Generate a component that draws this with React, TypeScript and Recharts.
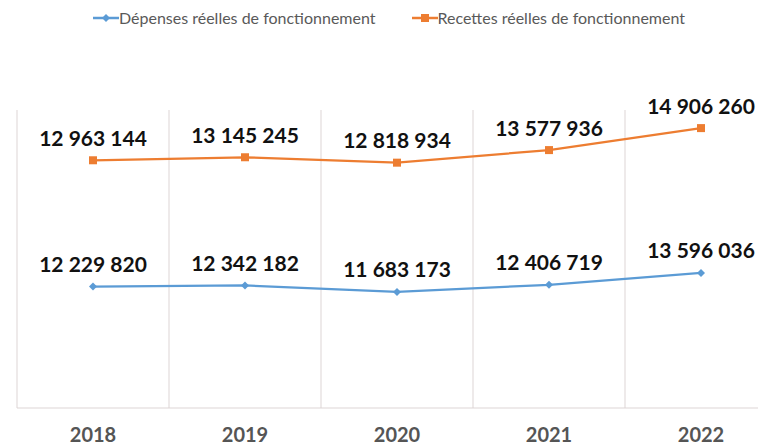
import {
  ComposedChart,
  Line,
  XAxis,
  YAxis,
  CartesianGrid,
  Legend,
} from "recharts";

const YEARS = ["2018", "2019", "2020", "2021", "2022"];
const DEPENSES = [12229820, 12342182, 11683173, 12406719, 13596036];
const RECETTES = [12963144, 13145245, 12818934, 13577936, 14906260];

const SERIES_NAMES = [
  "Dépenses réelles de fonctionnement",
  "Recettes réelles de fonctionnement",
];

const BLUE = "#5B9BD5";
const ORANGE = "#ED7D31";
const GRID = "#ddd5d5";
const FONT = "Lato, 'Open Sans', sans-serif";

const data = YEARS.map((y, i) => ({
  year: y,
  depenses: DEPENSES[i],
  recettes: RECETTES[i],
}));

const fmt = (v: number) =>
  String(v).replace(/\B(?=(\d{3})+(?!\d))/g, " ");

const renderLabel = (props: any) => {
  const { x, y, value, index } = props;
  return (
    <text
      key={`lbl-${index}`}
      x={x}
      y={y - 23}
      textAnchor="middle"
      dominantBaseline="central"
      fontFamily={FONT}
      fontWeight={700}
      fontSize={21}
      fill="#111"
    >
      {fmt(value)}
    </text>
  );
};

const SquareDot = (props: any) => {
  const { cx, cy, index } = props;
  return (
    <rect key={`sq-${index}`} x={cx - 4} y={cy - 4} width={8} height={8} fill={ORANGE} />
  );
};

const DiamondDot = (props: any) => {
  const { cx, cy, index } = props;
  return (
    <polygon
      key={`dm-${index}`}
      points={`${cx},${cy - 4} ${cx + 4},${cy} ${cx},${cy + 4} ${cx - 4},${cy}`}
      fill={BLUE}
    />
  );
};

const YearTick = (props: any) => {
  const { x, y, payload } = props;
  return (
    <text
      x={x}
      y={y + 18}
      textAnchor="middle"
      dominantBaseline="central"
      fontFamily={FONT}
      fontWeight={700}
      fontSize={20}
      fill="#555"
    >
      {payload.value}
    </text>
  );
};

const LegendIcon = ({ color, square }: { color: string; square: boolean }) => (
  <svg width={26} height={12}>
    <line x1={0} y1={6} x2={26} y2={6} stroke={color} strokeWidth={2.5} />
    {square ? (
      <rect x={9} y={2} width={8} height={8} fill={color} />
    ) : (
      <polygon points="13,2 17,6 13,10 9,6" fill={color} />
    )}
  </svg>
);

const renderLegend = () => (
  <div
    style={{
      display: "flex",
      justifyContent: "center",
      alignItems: "center",
      gap: 36,
      fontFamily: FONT,
      fontSize: 16,
      color: "#595959",
    }}
  >
    {SERIES_NAMES.map((name, i) => (
      <div key={name} style={{ display: "flex", alignItems: "center" }}>
        <LegendIcon color={i === 0 ? BLUE : ORANGE} square={i === 1} />
        <span>{name}</span>
      </div>
    ))}
  </div>
);

export default function App() {
  return (
    <div style={{ width: 758, height: 438, overflow: "hidden", background: "#fff" }}>
      <ComposedChart
        width={774}
        height={438}
        data={data}
        margin={{ top: 66, right: 5, bottom: 0, left: 9 }}
      >
        <CartesianGrid
          horizontal={false}
          stroke={GRID}
          verticalCoordinatesGenerator={({ offset }: any) =>
            YEARS.map((_, i) => offset.left + (i * offset.width) / YEARS.length)
          }
        />
        <XAxis
          dataKey="year"
          scale="band"
          axisLine={{ stroke: GRID }}
          tickLine={false}
          height={38}
          tick={<YearTick />}
        />
        <YAxis yAxisId="dep" hide domain={[0, 30000000]} />
        <YAxis yAxisId="rec" hide domain={[-2000000, 16000000]} />
        <Legend
          verticalAlign="top"
          height={36}
          content={renderLegend}
          wrapperStyle={{ top: 0, left: -6, width: 774 }}
        />
        <Line
          yAxisId="dep"
          dataKey="depenses"
          name={SERIES_NAMES[0]}
          stroke={BLUE}
          strokeWidth={2.25}
          dot={<DiamondDot />}
          activeDot={false}
          label={renderLabel}
          isAnimationActive={false}
        />
        <Line
          yAxisId="rec"
          dataKey="recettes"
          name={SERIES_NAMES[1]}
          stroke={ORANGE}
          strokeWidth={2.25}
          dot={<SquareDot />}
          activeDot={false}
          label={renderLabel}
          isAnimationActive={false}
        />
      </ComposedChart>
    </div>
  );
}
